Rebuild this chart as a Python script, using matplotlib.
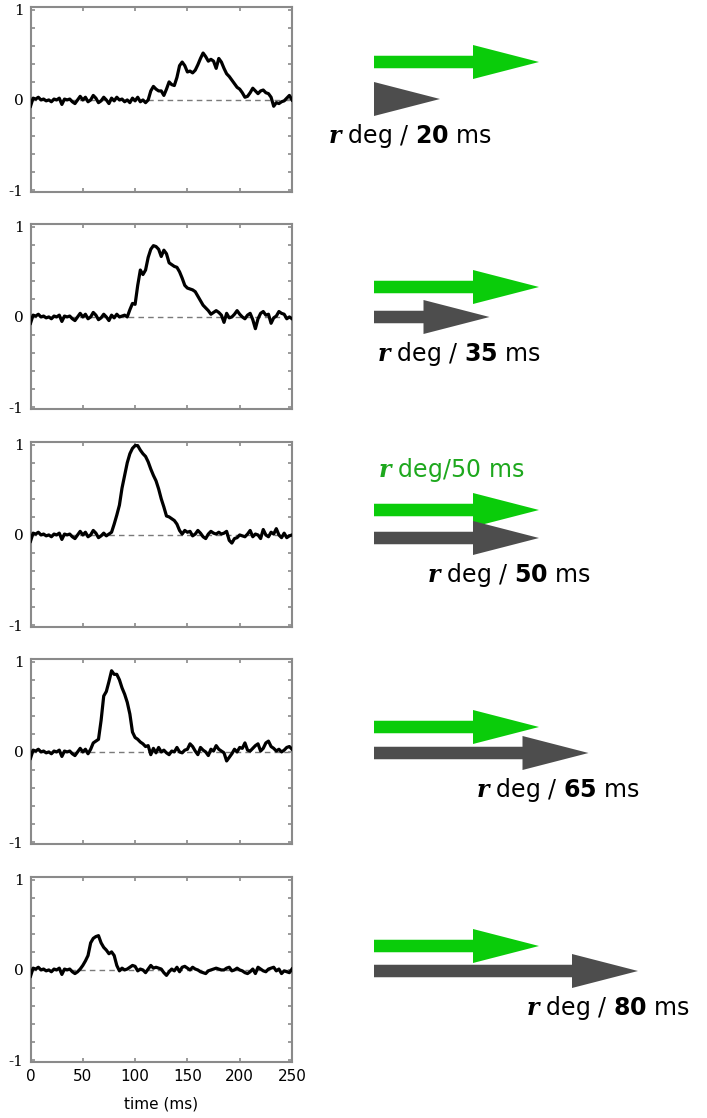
import numpy as np
import matplotlib
matplotlib.use("Agg")
import matplotlib.pyplot as plt
from matplotlib.ticker import FixedLocator, FixedFormatter

# ---- data -------------------------------------------------------------
durations = [20, 35, 50, 65, 80]          # gray stimulus duration (ms)
reference_duration = 50                   # green reference duration (ms)
time_ms = np.arange(0, 250.1, 2.5)        # sample times (ms)

resp_20 = [
    -0.07, 0.02, 0.01, 0.03, 0.00, 0.01, -0.01, 0.00, -0.02, 0.01,
    0.00, 0.02, -0.05, 0.01, 0.00, 0.01, -0.02, -0.04, 0.00, 0.04,
    0.00, 0.03, -0.02, 0.00, 0.05, 0.02, -0.03, -0.01, 0.03, 0.00,
    -0.04, 0.02, -0.01, 0.03, 0.00, 0.01, -0.02, 0.00, -0.03, 0.02,
    -0.01, 0.03, -0.02, 0.00, -0.03, 0.00, 0.10, 0.15, 0.12, 0.10,
    0.10, 0.05, 0.12, 0.20, 0.17, 0.16, 0.25, 0.38, 0.42, 0.38,
    0.31, 0.32, 0.30, 0.33, 0.39, 0.46, 0.52, 0.48, 0.43, 0.45,
    0.43, 0.35, 0.46, 0.42, 0.35, 0.29, 0.26, 0.22, 0.18, 0.14,
    0.12, 0.08, 0.03, 0.04, 0.08, 0.13, 0.10, 0.07, 0.10, 0.11,
    0.08, 0.07, 0.03, -0.07, -0.03, -0.04, -0.02, -0.01, 0.02, 0.05,
    0.00,
]
resp_35 = [
    -0.07, 0.02, 0.01, 0.03, 0.00, 0.01, -0.01, 0.00, -0.02, 0.01,
    0.00, 0.02, -0.05, 0.01, 0.00, 0.01, -0.02, -0.04, 0.00, 0.04,
    0.00, 0.03, -0.02, 0.00, 0.05, 0.02, -0.03, -0.01, 0.03, 0.00,
    -0.04, 0.02, -0.01, 0.03, 0.00, 0.01, 0.02, 0.00, 0.08, 0.15,
    0.14, 0.35, 0.52, 0.47, 0.52, 0.66, 0.75, 0.79, 0.78, 0.75,
    0.67, 0.74, 0.70, 0.60, 0.58, 0.56, 0.55, 0.50, 0.43, 0.35,
    0.32, 0.31, 0.30, 0.28, 0.23, 0.18, 0.13, 0.10, 0.07, 0.03,
    0.05, 0.07, 0.05, 0.02, -0.06, 0.04, -0.01, 0.00, 0.03, 0.07,
    0.03, 0.00, -0.02, 0.02, 0.04, -0.03, -0.13, -0.02, 0.04, 0.06,
    0.02, 0.03, -0.07, -0.01, 0.01, 0.06, 0.04, 0.03, -0.02, 0.00,
    -0.02,
]
resp_50 = [
    -0.07, 0.02, 0.01, 0.03, 0.00, 0.01, -0.01, 0.00, -0.02, 0.01,
    0.00, 0.02, -0.05, 0.01, 0.00, 0.01, -0.02, -0.04, 0.00, 0.04,
    0.00, 0.03, -0.02, 0.00, 0.05, 0.02, -0.03, -0.01, 0.02, -0.01,
    0.01, 0.03, 0.12, 0.22, 0.33, 0.52, 0.66, 0.80, 0.90, 0.96,
    0.99, 0.99, 0.94, 0.90, 0.87, 0.81, 0.73, 0.66, 0.60, 0.51,
    0.40, 0.31, 0.21, 0.20, 0.18, 0.16, 0.12, 0.05, 0.01, 0.05,
    0.03, 0.04, -0.01, 0.01, 0.05, 0.02, -0.02, -0.04, 0.01, 0.04,
    0.02, 0.01, 0.03, 0.01, 0.02, 0.04, -0.06, -0.09, -0.04, -0.03,
    0.00, -0.01, -0.02, 0.01, 0.05, -0.02, 0.01, 0.00, -0.04, 0.06,
    0.00, -0.02, 0.03, 0.01, 0.07, 0.00, -0.03, 0.02, -0.03, -0.01,
    0.00,
]
resp_65 = [
    -0.07, 0.02, 0.01, 0.03, 0.00, 0.01, -0.01, 0.00, -0.02, 0.01,
    0.00, 0.02, -0.05, 0.01, 0.00, 0.01, -0.02, -0.04, 0.00, 0.04,
    0.00, 0.03, -0.02, 0.03, 0.10, 0.12, 0.14, 0.35, 0.62, 0.67,
    0.78, 0.90, 0.86, 0.86, 0.80, 0.71, 0.64, 0.55, 0.42, 0.22,
    0.16, 0.14, 0.11, 0.09, 0.06, 0.07, -0.03, 0.04, -0.01, 0.05,
    0.00, 0.02, -0.01, -0.03, 0.01, 0.00, 0.05, 0.00, -0.01, 0.02,
    0.03, 0.09, 0.06, 0.01, -0.03, 0.05, 0.02, 0.00, -0.04, 0.03,
    0.01, 0.07, 0.03, 0.01, -0.01, -0.10, -0.06, -0.02, 0.03, 0.00,
    0.05, 0.04, 0.10, 0.02, 0.01, 0.04, 0.07, 0.09, 0.01, 0.04,
    0.10, 0.12, 0.06, 0.04, 0.01, 0.03, 0.00, 0.02, 0.05, 0.06,
    0.03,
]
resp_80 = [
    -0.07, 0.02, 0.01, 0.03, 0.00, 0.01, -0.01, 0.00, -0.02, 0.01,
    0.00, 0.02, -0.05, 0.01, 0.00, 0.01, -0.02, -0.04, -0.02, 0.01,
    0.05, 0.10, 0.16, 0.30, 0.35, 0.37, 0.38, 0.30, 0.25, 0.22,
    0.18, 0.20, 0.16, 0.05, -0.01, 0.02, 0.00, 0.01, 0.03, 0.05,
    0.04, -0.01, 0.01, 0.00, -0.03, 0.01, 0.05, 0.02, 0.03, 0.02,
    0.01, -0.03, -0.06, -0.02, 0.01, -0.01, 0.03, -0.02, 0.03, 0.04,
    0.02, 0.00, 0.03, 0.01, 0.00, -0.02, -0.03, -0.04, -0.01, 0.00,
    0.01, 0.02, 0.01, 0.00, 0.00, 0.02, 0.03, -0.01, 0.00, 0.02,
    0.00, -0.01, -0.03, -0.04, -0.02, 0.01, -0.04, 0.03, 0.01, -0.01,
    -0.02, 0.01, 0.02, 0.03, -0.01, 0.01, -0.04, -0.01, -0.02, -0.03,
    0.01,
]
responses = [resp_20, resp_35, resp_50, resp_65, resp_80]

x_ticks = [0, 50, 100, 150, 200, 250]
y_ticks = [-1.0, -0.8, -0.6, -0.4, -0.2, 0.0, 0.2, 0.4, 0.6, 0.8, 1.0]
y_ticklabels = ["-1", "", "", "", "", "0", "", "", "", "", "1"]

# ---- styling ----------------------------------------------------------
plt.rcParams["font.family"] = ["DejaVu Sans"]
plt.rcParams["mathtext.fontset"] = "custom"
plt.rcParams["mathtext.rm"] = "DejaVu Sans"
plt.rcParams["mathtext.bf"] = "DejaVu Sans:bold"
plt.rcParams["mathtext.bfit"] = "DejaVu Serif:italic:bold"

GREEN = "#0acc0a"
GREEN_TEXT = "#1ea81e"
DARK = "#4d4d4d"
FRAME = "#8a8a8a"

W, H = 707, 1118
fig = plt.figure(figsize=(W / 100, H / 100), dpi=100)

panel_left, panel_right = 30.5, 292.0
panel_tops = [7, 224, 442, 659, 877]
panel_h = 185.0
ylim = (-1.02, 1.03)

for i, (top, resp) in enumerate(zip(panel_tops, responses)):
    ax = fig.add_axes([panel_left / W, 1 - (top + panel_h) / H,
                       (panel_right - panel_left) / W, panel_h / H])
    ax.axhline(0, color="#7a7a7a", lw=1.0, ls=(0, (4, 3)), zorder=1)
    ax.plot(time_ms, resp, color="black", lw=2.3, zorder=3,
            solid_joinstyle="round")
    ax.set_xlim(0, 250)
    ax.set_ylim(*ylim)
    for s in ax.spines.values():
        s.set_color(FRAME)
        s.set_linewidth(1.5)
    ax.xaxis.set_major_locator(FixedLocator(x_ticks))
    ax.yaxis.set_major_locator(FixedLocator(y_ticks))
    ax.yaxis.set_major_formatter(FixedFormatter(y_ticklabels))
    ax.tick_params(direction="in", length=3, width=1.2, color=FRAME,
                   top=True, right=True)
    ax.tick_params(axis="y", labelsize=11, pad=5)
    for lab in ax.get_yticklabels():
        lab.set_fontfamily("DejaVu Serif")
    if i == len(responses) - 1:
        ax.tick_params(axis="x", labelsize=11, pad=5)
        ax.set_xlabel("time (ms)", fontsize=11, labelpad=9)
    else:
        ax.set_xticklabels([])

# ---- speed arrows -----------------------------------------------------
ov = fig.add_axes([0, 0, 1, 1])
ov.set_xlim(0, W)
ov.set_ylim(H, 0)
ov.axis("off")

tail_x = 374
px_per_ms = 3.3
green_y = [62, 287, 510, 727, 946]
gray_y = [99, 317, 538, 753, 971]
arrow_kw = dict(width=12.5, head_width=34, head_length=66,
                length_includes_head=True, lw=0)

for gy, dy, dur in zip(green_y, gray_y, durations):
    ov.arrow(tail_x, gy, px_per_ms * reference_duration, 0,
             color=GREEN, **arrow_kw)
    ov.arrow(tail_x, dy, px_per_ms * dur, 0, color=DARK, **arrow_kw)
    ov.text(tail_x + px_per_ms * dur + 52, dy + 37,
            r"$\mathbfit{r}$ deg / $\mathbf{%d}$ ms" % dur,
            ha="right", va="center", fontsize=17, color="black")

ov.text(378, 470, r"$\mathbfit{r}$ deg/%d ms" % reference_duration,
        ha="left", va="center", fontsize=17, color=GREEN_TEXT)

fig.savefig("out.png", dpi=100)
